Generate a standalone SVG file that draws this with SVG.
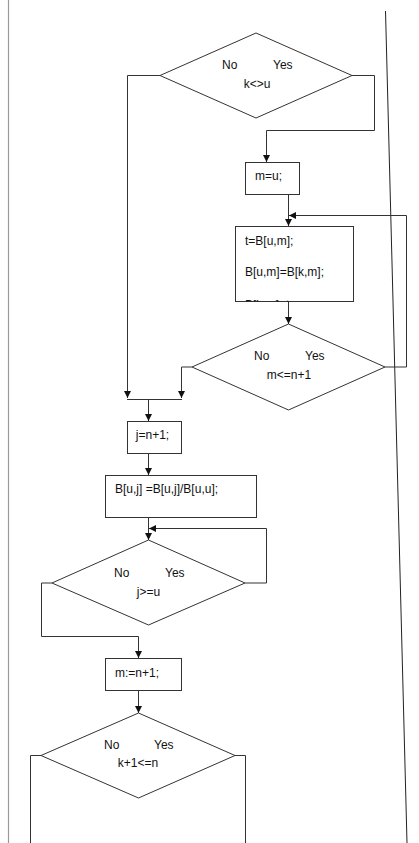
<svg xmlns="http://www.w3.org/2000/svg" width="419" height="843" viewBox="0 0 419 843">
<style>
.shape{fill:#fff;stroke:#333;stroke-width:1}
.conn{fill:none;stroke:#333;stroke-width:1}
.t{font-family:"Liberation Sans",Arial,sans-serif;font-size:12px;fill:#111}
.m{text-anchor:middle}
</style>
<defs>
<marker id="arr" viewBox="0 0 10 10" refX="10" refY="5" markerWidth="7" markerHeight="7" markerUnits="userSpaceOnUse" orient="auto">
<path d="M0,0 L10,5 L0,10 z" fill="#111"/>
</marker>
<clipPath id="clipBox2"><rect x="235.5" y="226.5" width="118" height="75"/></clipPath>
</defs>
<rect width="419" height="843" fill="#fff"/>
<g id="borders">
<line x1="8.5" y1="0" x2="8.5" y2="843" stroke="#999" stroke-width="1.2"/>
<line x1="385.5" y1="11" x2="407" y2="843" stroke="#222" stroke-width="1"/>
</g>
<g id="connectors">
<path class="conn" d="M160,75.5 H127.5 V398" marker-end="url(#arr)"/>
<path class="conn" d="M352,75.5 H374.5 V130.5 H266.5 V162" marker-end="url(#arr)"/>
<path class="conn" d="M288.5,194 V226" marker-end="url(#arr)"/>
<path class="conn" d="M288.5,302 V324" marker-end="url(#arr)"/>
<path class="conn" d="M385,367 H406.5 V215.5 H289" marker-end="url(#arr)"/>
<path class="conn" d="M192,367 H181.5 V398" marker-end="url(#arr)"/>
<path class="conn" d="M127,399.5 H182"/>
<path class="conn" d="M148.5,399.5 V421" marker-end="url(#arr)"/>
<path class="conn" d="M148.5,453 V475" marker-end="url(#arr)"/>
<path class="conn" d="M148.5,518 V540" marker-end="url(#arr)"/>
<path class="conn" d="M245,583 H266.5 V528.5 H149" marker-end="url(#arr)"/>
<path class="conn" d="M52,583 H41.5 V636.5 H138.5 V658" marker-end="url(#arr)"/>
<path class="conn" d="M138.5,691 V713" marker-end="url(#arr)"/>
<path class="conn" d="M41,755.5 H30.5 V843"/>
<path class="conn" d="M235,755.5 H245.5 V843"/>
</g>
<g id="dec1">
<polygon class="shape" points="256,33 352,75.5 256,118 160,75.5"/>
<text class="t" x="222" y="69">No</text>
<text class="t" x="273" y="69">Yes</text>
<text class="t m" x="257" y="88">k&lt;&gt;u</text>
</g>
<g id="box1">
<rect class="shape" x="245.5" y="162.5" width="54" height="32"/>
<text class="t" x="255" y="180">m=u;</text>
</g>
<g id="box2">
<rect class="shape" x="235.5" y="226.5" width="118" height="75"/>
<text class="t" x="245" y="245">t=B[u,m];</text>
<text class="t" x="245" y="275.5">B[u,m]=B[k,m];</text>
<text class="t" x="245" y="309" clip-path="url(#clipBox2)">B[k,m]=t;</text>
</g>
<g id="dec2">
<polygon class="shape" points="288.5,324 385,367 288.5,410 192,367"/>
<text class="t" x="254" y="360">No</text>
<text class="t" x="305" y="360">Yes</text>
<text class="t m" x="289" y="379">m&lt;=n+1</text>
</g>
<g id="box3">
<rect class="shape" x="127.5" y="421.5" width="54" height="32"/>
<text class="t m" x="152.5" y="439">j=n+1;</text>
</g>
<g id="box4">
<rect class="shape" x="105.5" y="475.5" width="151" height="42"/>
<text class="t" x="115" y="492.5">B[u,j] =B[u,j]/B[u,u];</text>
</g>
<g id="dec3">
<polygon class="shape" points="148.5,540 245,583 148.5,625 52,583"/>
<text class="t" x="114" y="576.5">No</text>
<text class="t" x="165" y="576.5">Yes</text>
<text class="t m" x="148.5" y="596">j&gt;=u</text>
</g>
<g id="box5">
<rect class="shape" x="105.5" y="658.5" width="76" height="32"/>
<text class="t" x="115" y="676.5">m:=n+1;</text>
</g>
<g id="dec4">
<polygon class="shape" points="138.5,713 235,755.5 138.5,798 41,755.5"/>
<text class="t" x="104" y="749">No</text>
<text class="t" x="154" y="749">Yes</text>
<text class="t m" x="138" y="767">k+1&lt;=n</text>
</g>
</svg>
